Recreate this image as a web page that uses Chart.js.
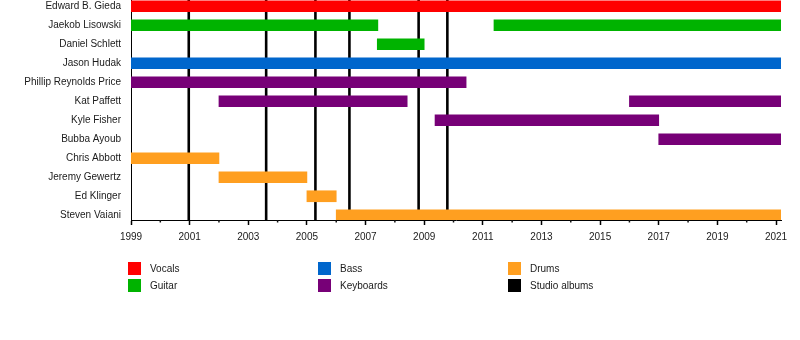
<!DOCTYPE html>
<html>
<head>
<meta charset="utf-8">
<script src="https://cdn.jsdelivr.net/npm/chart.js@4/dist/chart.umd.min.js"></script>
<style>
  html, body { margin: 0; padding: 0; background: #fff; }
  #wrap { width: 800px; height: 340px; }
</style>
</head>
<body>
<div id="wrap"><canvas id="timeline" width="800" height="340"></canvas></div>
<script>
// Band members, top to bottom
const members = [
  'Edward B. Gieda', 'Jaekob Lisowski', 'Daniel Schlett', 'Jason Hudak',
  'Phillip Reynolds Price', 'Kat Paffett', 'Kyle Fisher', 'Bubba Ayoub',
  'Chris Abbott', 'Jeremy Gewertz', 'Ed Klinger', 'Steven Vaiani'
];

// Timeline range (decimal years); PRESENT is where the axis ends
const START = 1999;
const PRESENT = 2021.17;

// Membership spans per role: [member, from, to]
const vocals = [
  ['Edward B. Gieda', 1999, PRESENT]
];
const guitar = [
  ['Jaekob Lisowski', 1999, 2007.42],
  ['Jaekob Lisowski', 2011.38, PRESENT],
  ['Daniel Schlett', 2007.4, 2009.0]
];
const bass = [
  ['Jason Hudak', 1999, PRESENT]
];
const keyboards = [
  ['Phillip Reynolds Price', 1999, 2010.43],
  ['Kat Paffett', 2002.0, 2008.42],
  ['Kat Paffett', 2016.0, PRESENT],
  ['Kyle Fisher', 2009.37, 2017.0],
  ['Bubba Ayoub', 2017.0, PRESENT]
];
const drums = [
  ['Chris Abbott', 1999, 2002.0],
  ['Jeremy Gewertz', 2002.0, 2005.0],
  ['Ed Klinger', 2005.0, 2006.0],
  ['Steven Vaiani', 2006.0, PRESENT]
];

// Studio album release dates (decimal years)
const studioAlbums = [2000.97, 2003.61, 2005.29, 2006.45, 2008.81, 2009.79];

// Axis ticks: a mark every year, a label every other year
const yearTicks = [];
for (let y = 1999; y <= 2021; y++) yearTicks.push(y);
const yearLabels = ['1999', '2001', '2003', '2005', '2007', '2009', '2011',
                    '2013', '2015', '2017', '2019', '2021'];
const isLabelled = v => yearLabels.includes(String(v));

const roleNames = ['Vocals', 'Guitar', 'Bass', 'Keyboards', 'Drums'];
const roleSpans = [vocals, guitar, bass, keyboards, drums];
const albumLabel = 'Studio albums';

// Styling
const colors = {
  Vocals: '#ff0000',
  Guitar: '#00b300',
  Bass: '#0066cc',
  Keyboards: '#770077',
  Drums: '#ff9f20',
  'Studio albums': '#000000'
};
const FONT = { family: "'Liberation Sans', Arial, Helvetica, sans-serif", size: 10 };
const TEXT = '#1a1a1a';

const datasets = roleNames.map((name, i) => ({
  label: name,
  backgroundColor: colors[name],
  borderWidth: 0,
  barThickness: 11,
  grouped: false,
  data: roleSpans[i].map(s => ({ y: members.indexOf(s[0]), x: [s[1], s[2]] }))
}));

// Vertical release markers, drawn beneath the bars
const albumLines = {
  id: 'albumLines',
  beforeDatasetsDraw(chart) {
    const { ctx, chartArea, scales } = chart;
    ctx.save();
    ctx.strokeStyle = colors[albumLabel];
    ctx.lineWidth = 2.6;
    studioAlbums.forEach(yr => {
      const x = scales.x.getPixelForValue(yr);
      ctx.beginPath();
      ctx.moveTo(x, chartArea.top);
      ctx.lineTo(x, chartArea.bottom);
      ctx.stroke();
    });
    ctx.restore();
  }
};

// Short marks for the unlabelled years
const minorTicks = {
  id: 'minorTicks',
  afterDraw(chart) {
    const { ctx, chartArea, scales } = chart;
    ctx.save();
    ctx.strokeStyle = '#111';
    ctx.lineWidth = 1.5;
    yearTicks.filter(v => !isLabelled(v)).forEach(v => {
      const x = scales.x.getPixelForValue(v);
      ctx.beginPath();
      ctx.moveTo(x, chartArea.bottom);
      ctx.lineTo(x, chartArea.bottom + 2.5);
      ctx.stroke();
    });
    ctx.restore();
  }
};

// Three-column legend, filled column by column
const columnLegend = {
  id: 'columnLegend',
  afterDraw(chart) {
    const { ctx } = chart;
    const entries = roleNames.concat([albumLabel]);
    const colX = [128, 318, 508];
    const rowY = [262, 279];
    const box = 13;
    ctx.save();
    ctx.font = `${FONT.size}px ${FONT.family}`;
    ctx.textBaseline = 'middle';
    ctx.textAlign = 'left';
    entries.forEach((label, i) => {
      const col = Math.floor(i / 2);
      const row = i % 2;
      const x = colX[col], y = rowY[row];
      ctx.fillStyle = colors[label];
      ctx.fillRect(x, y, box, box);
      ctx.fillStyle = TEXT;
      ctx.fillText(label, x + 22, y + box / 2 + 1);
    });
    ctx.restore();
  }
};

new Chart(document.getElementById('timeline'), {
  type: 'bar',
  data: { datasets },
  plugins: [albumLines, minorTicks, columnLegend],
  options: {
    responsive: false,
    animation: false,
    indexAxis: 'y',
    layout: { padding: { top: 0, right: 19, bottom: 100, left: 0 } },
    plugins: { legend: { display: false }, tooltip: { enabled: false } },
    scales: {
      x: {
        type: 'linear',
        position: 'bottom',
        offset: false,
        min: START,
        max: PRESENT,
        afterBuildTicks(scale) { scale.ticks = yearTicks.map(v => ({ value: v })); },
        afterFit(scale) { scale.height = 20; scale.paddingLeft = 0; scale.paddingRight = 0; },
        ticks: {
          autoSkip: false,
          maxRotation: 0,
          padding: 6,
          color: TEXT,
          font: FONT,
          callback: v => (isLabelled(v) ? String(v) : '')
        },
        grid: {
          offset: false,
          drawOnChartArea: false,
          drawTicks: true,
          tickLength: 5,
          tickWidth: 1.5,
          tickColor: c => (c.tick && isLabelled(c.tick.value) ? '#000' : 'rgba(0,0,0,0)')
        },
        border: { display: true, color: '#000', width: 1 }
      },
      y: {
        type: 'linear',
        reverse: true,
        offset: false,
        min: -0.331,
        max: 11.25,
        afterBuildTicks(scale) { scale.ticks = members.map((_, i) => ({ value: i })); },
        afterFit(scale) { scale.width = 131; scale.paddingTop = 0; scale.paddingBottom = 0; },
        ticks: {
          autoSkip: false,
          padding: 10,
          color: TEXT,
          font: FONT,
          callback: v => members[v]
        },
        grid: { offset: false, display: false, drawTicks: false },
        border: { display: true, color: '#000', width: 1 }
      }
    }
  }
});
</script>
</body>
</html>
